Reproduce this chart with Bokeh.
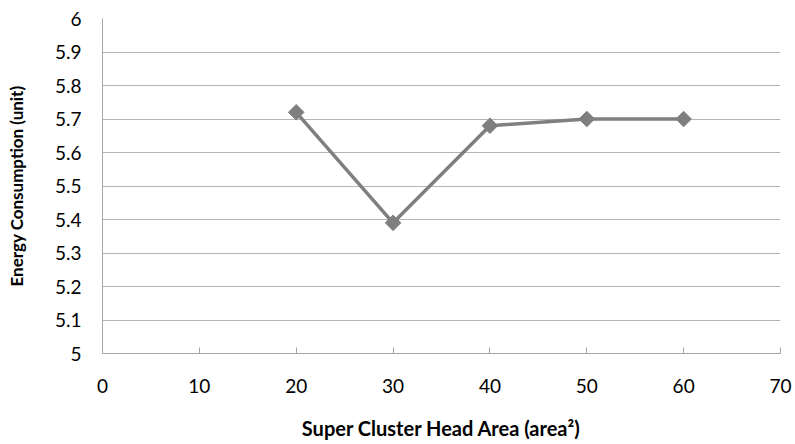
import math
from bokeh.plotting import figure
from bokeh.embed import file_html
from bokeh.resources import INLINE
from bokeh.models import FixedTicker, Range1d

x_vals = [20, 30, 40, 50, 60]
y_vals = [5.72, 5.39, 5.68, 5.70, 5.70]
x_ticks = [0, 10, 20, 30, 40, 50, 60, 70]
y_ticks = [5.0, 5.1, 5.2, 5.3, 5.4, 5.5, 5.6, 5.7, 5.8, 5.9, 6.0]

p = figure(width=795, height=444, output_backend="svg", toolbar_location=None,
           x_range=Range1d(0, 70), y_range=Range1d(5, 6),
           min_border_left=102, min_border_right=15, min_border_top=18, min_border_bottom=91)
p.outline_line_color = None
p.background_fill_color = "white"
p.border_fill_color = "white"

p.line(x_vals, y_vals, line_color="#7f7f7f", line_width=3.5)
p.scatter(x_vals, y_vals, marker="square", size=11, angle=math.pi / 4,
          fill_color="#7f7f7f", line_color="#7f7f7f")

p.xaxis.ticker = FixedTicker(ticks=x_ticks)
p.yaxis.ticker = FixedTicker(ticks=y_ticks)
p.yaxis.major_label_overrides = {5.0: "5", 6.0: "6"}
p.xgrid.grid_line_color = None
p.ygrid.grid_line_color = "#b4b4b4"
p.ygrid.grid_line_width = 1

for ax in (p.xaxis, p.yaxis):
    ax.axis_line_color = "#a6a6a6"
    ax.major_label_text_font = "Lato"
    ax.major_label_text_font_size = "19px"
    ax.major_label_text_color = "#000000"
    ax.minor_tick_line_color = None
    ax.axis_label_text_font = "Lato"
    ax.axis_label_text_font_style = "bold"
    ax.axis_label_text_color = "#000000"

p.xaxis.major_tick_in = 6
p.xaxis.major_tick_out = 0
p.xaxis.major_tick_line_color = "#a6a6a6"
p.xaxis.major_label_standoff = 25
p.xaxis.axis_label = "Super Cluster Head Area (area\u00b2)"
p.xaxis.axis_label_text_font_size = "20px"
p.xaxis.axis_label_standoff = 20

p.yaxis.major_tick_line_color = None
p.yaxis.major_tick_in = 0
p.yaxis.major_tick_out = 0
p.yaxis.major_label_standoff = 21
p.yaxis.axis_label = "Energy Consumption (unit)"
p.yaxis.axis_label_text_font_size = "17px"
p.yaxis.axis_label_standoff = 25

open("out.html", "w").write(file_html(p, INLINE))
